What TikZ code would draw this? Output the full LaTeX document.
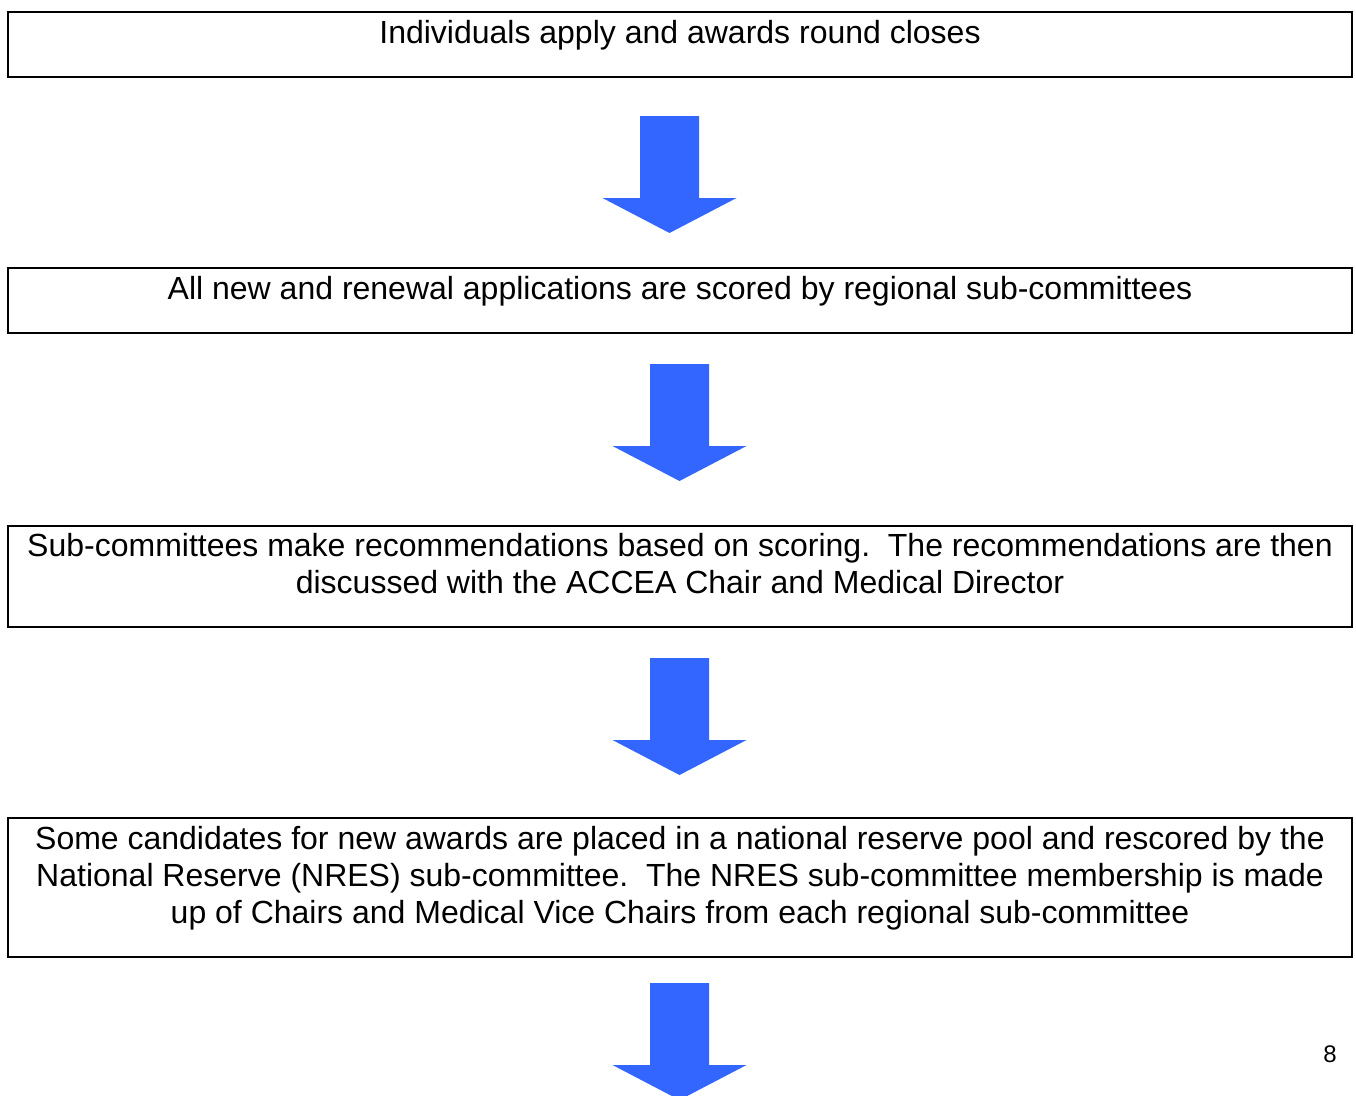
\documentclass[tikz,border=0pt]{standalone}
\usepackage{fontspec}
\setmainfont{Liberation Sans}
\definecolor{arrowblue}{HTML}{3366FF}
\begin{document}
\begin{tikzpicture}[x=1pt,y=-1pt,
  stepbox/.style={draw=black,line width=2pt,rectangle,inner sep=0pt,minimum width=1344pt},
  lbl/.style={font=\fontsize{32}{37}\selectfont,align=center,anchor=base,inner sep=0pt},
  blockarrow/.style={fill=arrowblue,draw=none}]
\useasboundingbox (0,0) rectangle (1356,1095);
% boxes
\node[stepbox,minimum height=65pt] (b1) at (680,44.5) {};
\node[stepbox,minimum height=65pt] (b2) at (680,300.5) {};
\node[stepbox,minimum height=101pt] (b3) at (680,576.5) {};
\node[stepbox,minimum height=139pt] (b4) at (680,887.5) {};
% texts (anchor=base is the baseline of the last line)
\node[lbl] (t1) at (680,43.5) {Individuals apply and awards round closes};
\node[lbl] (t2) at (680,299) {All new and renewal applications are scored by regional sub-committees};
\node[lbl] (t3) at (680,593) {Sub-committees make recommendations based on scoring.~~The recommendations are then\\discussed with the ACCEA Chair and Medical Director};
\node[lbl] (t4) at (680,923) {Some candidates for new awards are placed in a national reserve pool and rescored by the\\National Reserve (NRES) sub-committee.~~The NRES sub-committee membership is made\\up of Chairs and Medical Vice Chairs from each regional sub-committee};
% arrow anchor coordinates (top centre of each block arrow)
\coordinate (a1) at (669.5,116);
\coordinate (a2) at (679.5,364);
\coordinate (a3) at (679.5,658);
\coordinate (a4) at (679.5,983);
\foreach \a in {a1,a2,a3,a4}{
  \fill[blockarrow] ([xshift=-29.5pt]\a) -- ([xshift=29.5pt]\a) -- ([xshift=29.5pt,yshift=-82pt]\a)
    -- ([xshift=67pt,yshift=-82pt]\a) -- ([yshift=-117pt]\a) -- ([xshift=-67pt,yshift=-82pt]\a)
    -- ([xshift=-29.5pt,yshift=-82pt]\a) -- cycle;
}
% page number
\node[font=\fontsize{24}{28}\selectfont,anchor=base,inner sep=0pt] (pg) at (1330,1062) {8};
\end{tikzpicture}
\end{document}
